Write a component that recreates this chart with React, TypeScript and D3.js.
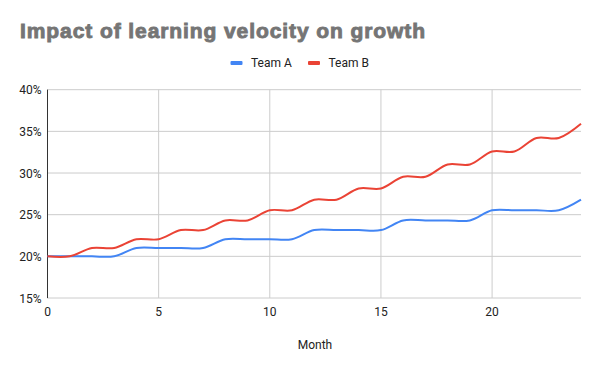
import React from "react";
import * as d3 from "d3";

const months = [0,1,2,3,4,5,6,7,8,9,10,11,12,13,14,15,16,17,18,19,20,21,22,23,24];
const teamA = [20,20,20,20,21,21,21,21,22.05,22.05,22.05,22.05,23.15,23.15,23.15,23.15,24.31,24.31,24.31,24.31,25.53,25.53,25.53,25.53,26.8];
const teamB = [20,20,21,21,22.05,22.05,23.15,23.15,24.31,24.31,25.53,25.53,26.8,26.8,28.14,28.14,29.55,29.55,31.03,31.03,32.58,32.58,34.21,34.21,35.92];
const yTicks = [15,20,25,30,35,40];
const xTicks = [0,5,10,15,20];
const seriesNames = ["Team A", "Team B"];
const colors = ["#4285F4", "#EA4335"];

export default function App() {
  const W = 600, H = 371;
  const x = d3.scaleLinear().domain([0, 24]).range([47.5, 581]);
  const y = d3.scaleLinear().domain([15, 40]).range([298, 89.7]);
  const line = d3.line<number>()
    .x((_, i) => x(months[i]))
    .y((d) => y(d))
    .curve(d3.curveCatmullRom.alpha(0.5));
  const series = [teamA, teamB];
  return (
    <svg width={W} height={H} style={{ position: "absolute", left: 0, top: 0, background: "#fff" }}>
      <rect width={W} height={H} fill="#fff" />
      <text x={20} y={38} fontFamily="'Liberation Sans', Arial, sans-serif" fontWeight="bold" fontSize={21}
        fill="#757575" stroke="#757575" strokeWidth={0.9} textLength={405} lengthAdjust="spacing">
        Impact of learning velocity on growth
      </text>
      {seriesNames.map((n, i) => (
        <g key={n} transform={`translate(${230.5 + i * 77.5},0)`}>
          <rect x={0} y={61} width={12} height={4} fill={colors[i]} rx={1} />
          <text x={20.5} y={67} fontFamily="Roboto, sans-serif" fontSize={12} fill="#222">{n}</text>
        </g>
      ))}
      {yTicks.map((t) => (
        <g key={t}>
          <line x1={47} x2={581} y1={y(t)} y2={y(t)} stroke="#cccccc" strokeWidth={1} />
          <text x={41.5} y={y(t) + 4.5} textAnchor="end" fontFamily="Roboto, sans-serif" fontSize={12} fill="#222">{t}%</text>
        </g>
      ))}
      {xTicks.map((t) => (
        <g key={t}>
          {t !== 0 && <line x1={x(t)} x2={x(t)} y1={89.7} y2={298} stroke="#cccccc" strokeWidth={1} />}
          <text x={x(t)} y={316} textAnchor="middle" fontFamily="Roboto, sans-serif" fontSize={12} fill="#222">{t}</text>
        </g>
      ))}
      <line x1={47.5} x2={47.5} y1={89.7} y2={298} stroke="#333" strokeWidth={1} />
      {series.map((s, i) => (
        <path key={i} d={line(s) || ""} fill="none" stroke={colors[i]} strokeWidth={2} />
      ))}
      <text x={315} y={348.5} textAnchor="middle" fontFamily="Roboto, sans-serif" fontSize={12} fill="#222">Month</text>
    </svg>
  );
}
